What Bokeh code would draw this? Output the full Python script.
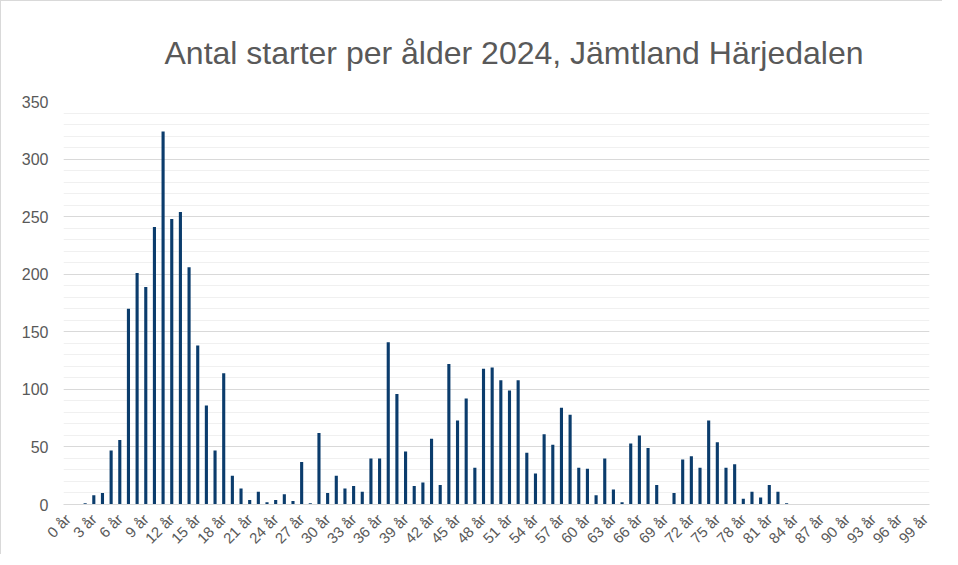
import math
from bokeh.plotting import figure
from bokeh.models import FixedTicker, Range1d, Title
from bokeh.embed import file_html
from bokeh.resources import INLINE

ages = list(range(0, 100))
starts = [
    0, 0, 1, 8, 10, 47, 56, 170, 201, 189,          # 0-9
    241, 324, 248, 254, 206, 138, 86, 47, 114, 25,  # 10-19
    14, 4, 11, 2, 4, 9, 3, 37, 1, 62,               # 20-29
    10, 25, 14, 16, 11, 40, 40, 141, 96, 46,        # 30-39
    16, 19, 57, 17, 122, 73, 92, 32, 118, 119,      # 40-49
    108, 99, 108, 45, 27, 61, 52, 84, 78, 32,       # 50-59
    31, 8, 40, 13, 2, 53, 60, 49, 17, 0,            # 60-69
    10, 39, 42, 32, 73, 54, 32, 35, 5, 11,          # 70-79
    6, 17, 11, 1, 0, 0, 0, 0, 0, 0,                 # 80-89
    0, 0, 0, 0, 0, 0, 0, 0, 0, 0,                   # 90-99
]
tick_ages = list(range(0, 100, 3))
tick_labels = {a: f"{a} år" for a in tick_ages}
title_text = "Antal starter per ålder 2024, Jämtland Härjedalen"

p = figure(width=942, height=554, output_backend="svg", toolbar_location=None,
           x_range=Range1d(-0.5, 99.5), y_range=Range1d(0, 350),
           min_border_left=62, min_border_right=14, min_border_top=100,
           min_border_bottom=50)

p.styles = {"border-left": "1px solid #d9d9d9", "border-top": "1px solid #d9d9d9"}

p.title = Title(text=title_text, align="left", text_font="Liberation Sans",
                text_font_size="32px", text_font_style="normal",
                text_color="#595959", offset=101, standoff=62)

p.vbar(x=ages, top=starts, width=0.36, color="#0b3c6c", line_color=None)

p.outline_line_color = None
p.background_fill_color = "white"
p.border_fill_color = "white"

# y axis
p.yaxis.ticker = FixedTicker(ticks=list(range(0, 351, 50)),
                             minor_ticks=list(range(0, 351, 10)))
p.yaxis.axis_line_color = None
p.yaxis.major_tick_line_color = None
p.yaxis.minor_tick_line_color = None
p.yaxis.major_label_text_font = "Liberation Sans"
p.yaxis.major_label_text_font_size = "16px"
p.yaxis.major_label_text_color = "#595959"
p.yaxis.major_label_standoff = 9

p.ygrid.grid_line_color = "#d9d9d9"
p.ygrid.minor_grid_line_color = "#f0f0f0"
p.ygrid.grid_line_width = 1
p.xgrid.grid_line_color = None

# x axis
p.xaxis.ticker = FixedTicker(ticks=tick_ages)
p.xaxis.major_label_overrides = tick_labels
p.xaxis.major_label_orientation = math.pi / 4
p.xaxis.axis_line_color = "#d9d9d9"
p.xaxis.major_tick_line_color = None
p.xaxis.minor_tick_line_color = None
p.xaxis.major_label_text_font = "Liberation Sans"
p.xaxis.major_label_text_font_size = "15px"
p.xaxis.major_label_text_color = "#595959"
p.xaxis.major_label_standoff = 6

open("out.html", "w").write(file_html(p, INLINE))
